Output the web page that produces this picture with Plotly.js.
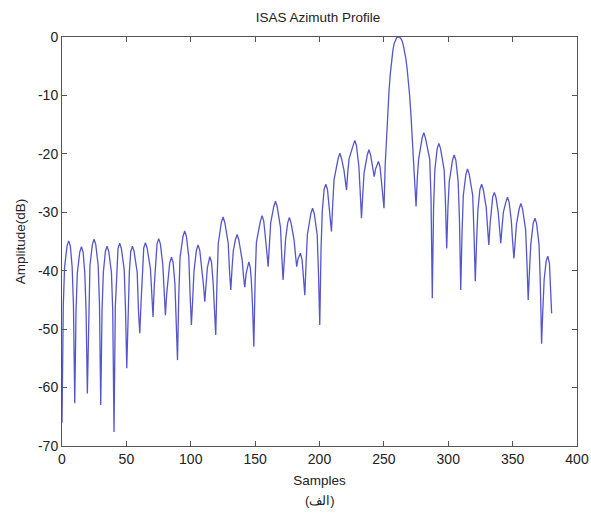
<!DOCTYPE html>
<html>
<head>
<meta charset="utf-8">
<script src="https://cdn.plot.ly/plotly-3.0.1.min.js"></script>
<style>html,body{margin:0;padding:0;background:#fff;}#chart{width:591px;height:513px;}</style>
</head>
<body>
<div id="chart"></div>
<script>
const sampleIdx = [
  0, 1, 2, 3.9, 5.2, 6.5, 7.9, 8.9, 9.9,
  10.9, 11.9, 13.8, 15.1, 16.4, 17.7, 18.7, 19.7,
  20.7, 21.7, 23.6, 24.9, 26.2, 28.1, 29.1, 30.1,
  31.1, 32.1, 33.7, 35.0, 36.3, 38.4, 39.4, 40.4,
  41.4, 42.4, 43.5, 44.8, 46.1, 48.3, 49.3, 50.3,
  51.3, 52.3, 53.4, 54.7, 56.0, 58.4, 59.4, 60.4,
  61.4, 62.4, 63.5, 64.8, 66.1, 68.7, 69.7, 70.7,
  71.7, 72.7, 73.8, 75.1, 76.4, 78.3, 79.3, 80.3,
  81.3, 82.3, 83.7, 85.0, 86.3, 87.7, 88.7, 89.7,
  90.7, 91.7, 94.0, 95.3, 96.6, 98.5, 99.5, 100.5,
  101.5, 102.5, 104.4, 105.7, 107.0, 108.9, 109.9, 110.9,
  111.9, 112.9, 114.8, 116.1, 117.4, 118.4, 119.4,
  120.4, 121.4, 123.8, 125.1, 126.4, 129.1, 130.1, 131.1,
  132.1, 133.1, 134.7, 136.0, 137.3, 140.0, 141.0, 142.0,
  143.0, 145.1, 146.2, 147.0, 148.0, 149.0,
  150.0, 151.0, 154.1, 155.4, 156.7, 158.1, 159.1, 160.1,
  161.1, 162.1, 164.5, 165.8, 167.1, 169.7, 170.7, 171.7,
  172.7, 173.7, 175.3, 176.6, 177.9, 180.3, 181.3, 182.3,
  183.3, 185.2, 186.5, 187.6, 188.6,
  189.6, 190.6, 193.3, 194.6, 195.9, 198.2, 199.2, 200.2,
  201.2, 202.2, 203.6, 204.9, 206.2, 207.3, 208.3, 209.3,
  210.3, 211.3, 214.5, 215.8, 217.1, 219.0, 220.0, 221.0,
  222.0, 223.0, 226.1, 227.4, 228.7, 230.6, 231.6, 232.6,
  233.6, 234.6, 237.1, 238.4, 239.7, 241.0, 242.5,
  243.5, 245.8, 247.0, 248.1, 249.1, 250.1,
  251, 252, 253, 254, 255, 256, 257, 258, 259, 260, 261, 262, 263,
  264, 265, 266, 267, 268, 269, 270, 271, 272, 273, 274, 275,
  276.0, 277.0, 279.7, 281.0, 282.3, 285.6, 286.6, 287.6,
  288.6, 289.6, 291.4, 292.7, 294.0, 296.8, 297.8, 298.8,
  299.8, 300.8, 303.3, 304.6, 305.9, 307.7, 308.7, 309.7,
  310.7, 311.7, 313.7, 315.0, 316.3, 319.0, 320.0, 321.0,
  322.0, 323.0, 324.6, 325.9, 327.2, 329.5, 330.5, 331.5,
  332.5, 333.5, 334.5, 335.8, 337.1, 338.8, 339.8, 340.8,
  341.8, 342.8, 344.7, 346.0, 347.3, 349.0, 350.0, 351.0,
  352.0, 353.0, 355.1, 356.4, 357.7, 360.1, 361.1, 362.1,
  363.1, 364.1, 366.0, 367.3, 368.6, 370.5, 371.5, 372.5,
  373.5, 374.5, 376.0, 377.3, 378.6, 379.5, 380.3
];

// Amplitude in dB at each of those samples
const amplitudeDb = [
  -66, -45.9, -39.4, -35.8, -34.9, -35.8, -39.4, -45.9, -62.7,
  -46.9, -40.4, -36.8, -35.9, -36.8, -40.4, -46.9, -61.0,
  -45.6, -39.1, -35.5, -34.6, -35.5, -39.1, -45.6, -63.0,
  -46.8, -40.3, -36.7, -35.8, -36.7, -40.3, -46.8, -67.6,
  -46.3, -39.8, -36.2, -35.3, -36.2, -39.8, -46.3, -56.7,
  -46.8, -40.3, -36.7, -35.8, -36.7, -40.3, -46.8, -50.7,
  -45.5, -39.7, -36.1, -35.2, -36.1, -39.7, -43.0, -47.9,
  -42.5, -39.0, -35.4, -34.5, -35.4, -39.0, -43.0, -47.6,
  -44.0, -41.5, -38.6, -37.7, -38.6, -42.2, -48.7, -55.3,
  -44.2, -37.7, -34.1, -33.2, -34.1, -37.7, -44.2, -49.3,
  -45.0, -40.1, -36.5, -35.6, -36.5, -40.1, -42.5, -45.3,
  -42.0, -39.5, -37.6, -38.5, -42.1, -46.5, -51.0,
  -41.8, -35.3, -31.7, -30.8, -31.7, -35.3, -40.0, -43.3,
  -39.5, -36.5, -34.7, -33.8, -34.7, -38.3, -41.0, -42.8,
  -40.5, -38.5, -39.4, -41.5, -46.0, -53.0,
  -41.6, -35.1, -31.5, -30.6, -31.5, -34.0, -36.8, -39.3,
  -35.5, -31.8, -29.0, -28.1, -29.0, -32.6, -37.5, -41.6,
  -38.0, -34.5, -31.8, -30.9, -31.8, -34.8, -37.2, -39.3,
  -38.0, -37.0, -38.2, -41.0, -44.2,
  -38.5, -33.8, -30.2, -29.3, -30.2, -33.8, -40.3, -49.3,
  -36.2, -29.7, -26.1, -25.2, -26.1, -28.7, -31.0, -33.3,
  -28.5, -24.4, -20.8, -19.9, -20.8, -22.8, -24.5, -26.2,
  -23.0, -20.8, -18.6, -17.7, -18.6, -22.2, -26.5, -31.0,
  -27.0, -23.3, -20.2, -19.3, -20.2, -21.8, -23.9,
  -22.6, -21.3, -22.2, -24.5, -26.5, -29.3,
  -22.0, -17.0, -12.8, -9.2, -6.3, -4.0, -2.3, -1.1, -0.4, -0.1, 0, 0, -0.2,
  -0.6, -1.3, -2.3, -3.6, -5.3, -7.4, -10.0, -13.2, -16.8, -21.0, -25.3, -29.0,
  -24.0, -20.9, -17.3, -16.4, -17.3, -20.9, -27.4, -44.7,
  -29.2, -22.7, -19.1, -18.2, -19.1, -22.7, -28.0, -36.2,
  -29.0, -24.7, -21.1, -20.2, -21.1, -24.7, -31.2, -43.3,
  -33.6, -27.1, -23.5, -22.6, -23.5, -27.1, -33.6, -41.8,
  -35.0, -29.7, -26.1, -25.2, -26.1, -29.2, -32.5, -35.6,
  -32.0, -29.5, -27.4, -26.6, -27.5, -30.0, -32.8, -35.3,
  -32.5, -30.0, -28.3, -27.4, -28.3, -31.5, -35.0, -37.9,
  -35.0, -32.0, -29.4, -28.5, -29.4, -33.0, -38.5, -45.0,
  -40.0, -35.5, -31.9, -31.0, -31.9, -35.5, -42.0, -52.5,
  -46.5, -41.5, -38.4, -37.5, -38.8, -42.5, -47.3
];

const xTicks = [0, 50, 100, 150, 200, 250, 300, 350, 400];
const yTicks = [-70, -60, -50, -40, -30, -20, -10, 0];

const chartTitle = 'ISAS Azimuth Profile';
const xLabel = 'Samples';
const yLabel = 'Amplitude(dB)';
const caption = '(الف)';

const axisCommon = {
  showline: true, mirror: 'ticks', linecolor: '#555', linewidth: 1,
  ticks: 'inside', ticklen: 5, tickcolor: '#555', tickwidth: 1,
  showgrid: false, zeroline: false, fixedrange: true,
  tickfont: {size: 14, color: '#222'}
};

const trace = {
  x: sampleIdx, y: amplitudeDb, type: 'scatter', mode: 'lines',
  line: {color: '#5555cc', width: 1.3}, hoverinfo: 'x+y'
};

const layout = {
  width: 591, height: 513,
  margin: {l: 62, r: 14, t: 37, b: 67, pad: 0},
  paper_bgcolor: '#ffffff', plot_bgcolor: '#ffffff',
  font: {family: '"Liberation Sans", Arial, sans-serif', size: 14, color: '#222'},
  showlegend: false,
  title: {text: chartTitle, x: 0.538, xanchor: 'center', y: 0.966, yref: 'container', yanchor: 'middle', font: {size: 13.5, color: '#222'}},
  xaxis: Object.assign({}, axisCommon, {
    range: [0, 400], tickmode: 'array', tickvals: xTicks, ticktext: xTicks.map(String),
    title: {text: xLabel, standoff: 9, font: {size: 13.5}}
  }),
  yaxis: Object.assign({}, axisCommon, {
    range: [-70, 0], tickmode: 'array', tickvals: yTicks, ticktext: yTicks.map(String),
    title: {text: yLabel, standoff: 9, font: {size: 13.5}}
  }),
  annotations: [{
    text: caption, xref: 'paper', yref: 'paper', x: 0.5, y: -0.133,
    xanchor: 'center', yanchor: 'middle', showarrow: false, font: {size: 13, color: '#222'}
  }]
};

Plotly.newPlot('chart', [trace], layout, {displayModeBar: false, staticPlot: true});
</script>
</body>
</html>
